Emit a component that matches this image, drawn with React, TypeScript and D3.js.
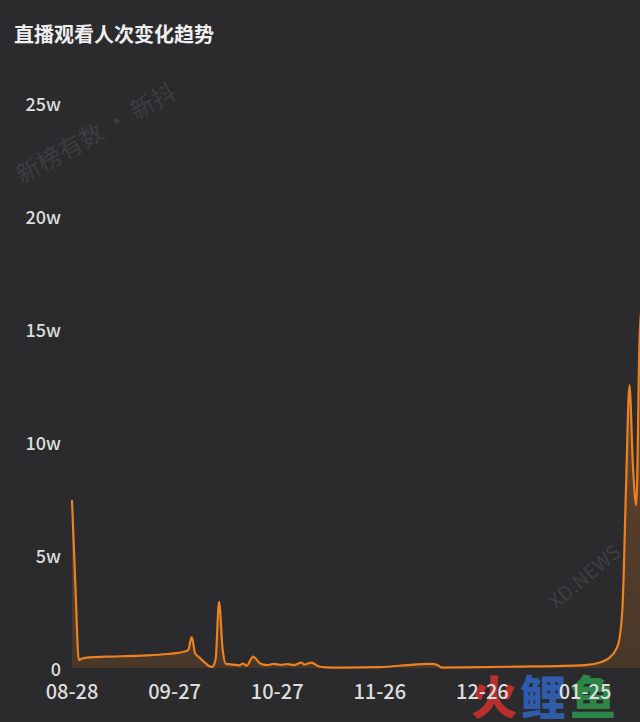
import React from "react";
import * as d3 from "d3";

const title = "直播观看人次变化趋势";
const startDate = new Date(2020, 7, 28);
const dayOffsets = [0, 1, 2, 3, 5, 10, 20, 28, 33, 34, 35, 36, 37, 38, 39, 40, 41, 42, 43, 44, 45, 47, 49, 50, 51, 53, 55, 57, 59, 61, 63, 65, 67, 68, 70, 72, 74, 80, 90, 100, 105, 107, 108, 115, 130, 150, 155, 157, 159, 160, 161, 162, 163, 164, 165, 166, 167];
const viewers = [74300, 36000, 3500, 4200, 4700, 5000, 5500, 6200, 7300, 8000, 13700, 6500, 5000, 3500, 2200, 900, 500, 4000, 29300, 9000, 1800, 1500, 1200, 2000, 1000, 5000, 2000, 1300, 1800, 1400, 1700, 1300, 2400, 1500, 2400, 800, 300, 200, 400, 1500, 1800, 1200, 200, 300, 600, 1300, 2800, 4400, 8000, 12400, 28000, 80000, 125200, 90000, 72000, 148000, 165000];
const yTicks = [0, 50000, 100000, 150000, 200000, 250000];
const xTickOffsets = [0, 30, 60, 90, 120, 150];

const W = 640;
const H = 722;
const FONT = "'Noto Sans CJK SC', 'Open Sans', sans-serif";

export default function App() {
  const dates = dayOffsets.map((d) => d3.timeDay.offset(startDate, d));
  const data = dates.map((d, i) => ({ date: d, v: viewers[i] }));
  const x = d3
    .scaleTime()
    .domain([startDate, d3.timeDay.offset(startDate, 150)])
    .range([72, 585]);
  const y = d3.scaleLinear().domain([0, 250000]).range([668, 103]);
  const line = d3
    .line<{ date: Date; v: number }>()
    .x((d) => x(d.date))
    .y((d) => y(d.v))
    .curve(d3.curveMonotoneX);
  const area = d3
    .area<{ date: Date; v: number }>()
    .x((d) => x(d.date))
    .y0(y(0))
    .y1((d) => y(d.v))
    .curve(d3.curveMonotoneX);
  const fmtY = (v: number) => (v === 0 ? "0" : `${v / 10000}w`);
  const fmtX = d3.timeFormat("%m-%d");

  return (
    <div style={{ position: "absolute", left: 0, top: 0 }}>
      <svg width={W} height={H} style={{ display: "block", overflow: "hidden" }}>
        <defs>
          <linearGradient id="areaFill" gradientUnits="userSpaceOnUse" x1={0} y1={y(250000)} x2={0} y2={y(0)}>
            <stop offset="0%" stopColor="#e8791a" stopOpacity={0.4} />
            <stop offset="100%" stopColor="#e8791a" stopOpacity={0.16} />
          </linearGradient>
        </defs>
        <rect width={W} height={H} fill="#2b2b2d" />
        {/* watermarks */}
        <text
          x={22}
          y={184}
          transform="rotate(-29 22 184)"
          fontFamily={FONT}
          fontSize={24}
          fill="#3d3d40"
        >
          新榜有数 · 新抖
        </text>
        <text
          x={556}
          y={610}
          transform="rotate(-40 556 610)"
          fontFamily={FONT}
          fontSize={20}
          fill="#3e3e41"
        >
          XD.NEWS
        </text>
        <text
          x={-46}
          y={540}
          transform="rotate(-40 -46 540)"
          fontFamily={FONT}
          fontSize={20}
          fill="#3e3e41"
        >
          NEW
        </text>
        <text x={14} y={42} fontFamily={FONT} fontSize={20} fontWeight={700} fill="#eeeeee">
          {title}
        </text>
        {yTicks.map((t) => (
          <text
            key={t}
            x={61}
            y={y(t)}
            textAnchor="end"
            dominantBaseline="central"
            fontFamily={FONT}
            fontSize={18}
            fontWeight={500}
            fill="#dddddd"
          >
            {fmtY(t)}
          </text>
        ))}
        <path d={area(data) || ""} fill="url(#areaFill)" />
        <path d={line(data) || ""} fill="none" stroke="#ec8122" strokeWidth={2.2} strokeLinejoin="round" />
        {/* logo watermark */}
        <g fontFamily={FONT} fontSize={46} fontWeight={900} opacity={0.9}>
          <text x={471} y={714} fill="#c8302c">火</text>
          <text x={520} y={714} fill="#2f62b8">鲤</text>
          <text x={570} y={714} fill="#2e8f4a">鱼</text>
        </g>
        {xTickOffsets.map((o) => {
          const d = d3.timeDay.offset(startDate, o);
          return (
            <text
              key={o}
              x={x(d)}
              y={690}
              textAnchor="middle"
              dominantBaseline="central"
              fontFamily={FONT}
              fontSize={20}
              fontWeight={500}
              fill="#dddddd"
            >
              {fmtX(d)}
            </text>
          );
        })}
      </svg>
    </div>
  );
}
